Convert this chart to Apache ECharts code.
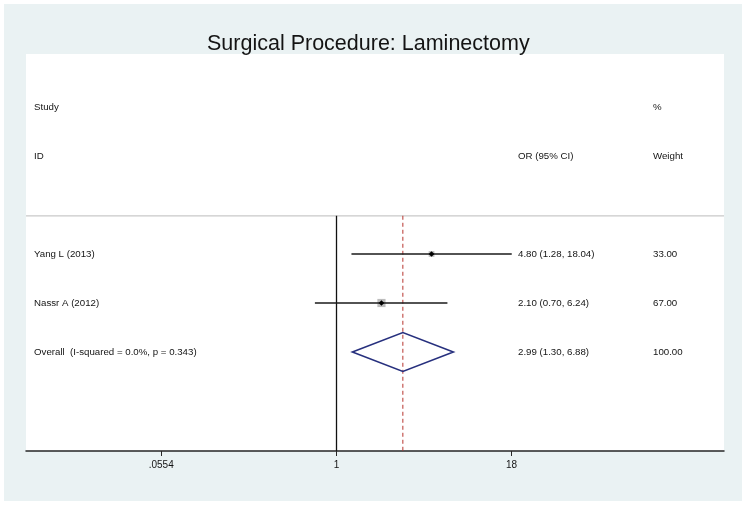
<!DOCTYPE html>
<html>
<head>
<meta charset="utf-8">
<script src="https://cdn.jsdelivr.net/npm/echarts@6/dist/echarts.min.js"></script>
<style>
  html, body { margin: 0; padding: 0; background: #ffffff; }
  #chart { width: 747px; height: 507px; }
</style>
</head>
<body>
<div id="chart"></div>
<script>
// ---- Data ----
const studies = ['Yang L (2013)', 'Nassr A (2012)'];
const orValues = [4.80, 2.10];
const ciLower = [1.28, 0.70];
const ciUpper = [18.04, 6.24];
const weights = [33.00, 67.00];
const overallLabel = 'Overall  (I-squared = 0.0%, p = 0.343)';
const overallValues = [2.99];
const overallLower = [1.30];
const overallUpper = [6.88];
const overallWeight = [100.00];
const nullValue = [1];
const tickValues = [0.0554, 1, 18];
const tickLabels = ['.0554', '1', '18'];
const titleText = 'Surgical Procedure: Laminectomy';
const headerStudy = ['Study', 'ID'];
const headerEffect = ['', 'OR (95% CI)'];
const headerWeight = ['%', 'Weight'];

// ---- Layout (rows: 0 = "Study", 1 = "ID", 3.. = studies) ----
const firstStudyRow = 3;
const separatorRow = 2.22;
const FONT = '"Liberation Sans", Arial, Helvetica, sans-serif';
const TEXT_COLOR = '#141414';

const fmt = v => v.toFixed(2);

const studyData = studies.map((s, i) => [orValues[i], ciLower[i], ciUpper[i], weights[i], firstStudyRow + i]);
const overallRow = firstStudyRow + studies.length;
const overallData = [[overallValues[0], overallLower[0], overallUpper[0], overallRow]];

const textRows = [];
headerStudy.forEach((h, i) => textRows.push([i, h, headerEffect[i], headerWeight[i]]));
studies.forEach((s, i) => textRows.push([firstStudyRow + i, s,
  fmt(orValues[i]) + ' (' + fmt(ciLower[i]) + ', ' + fmt(ciUpper[i]) + ')', fmt(weights[i])]));
textRows.push([overallRow, overallLabel,
  fmt(overallValues[0]) + ' (' + fmt(overallLower[0]) + ', ' + fmt(overallUpper[0]) + ')', fmt(overallWeight[0])]);

const chart = echarts.init(document.getElementById('chart'), null, { renderer: 'canvas' });

const option = {
  animation: false,
  backgroundColor: '#ffffff',
  graphic: [{
    type: 'rect', z: -10, silent: true,
    shape: { x: 4, y: 4, width: 738, height: 497 },
    style: { fill: '#eaf2f3' }
  }],
  title: {
    text: titleText,
    left: 202, top: 28,
    textStyle: { fontFamily: FONT, fontSize: 21.5, fontWeight: 'normal', color: TEXT_COLOR }
  },
  grid: {
    left: 26, right: 23, top: 54, bottom: 56,
    show: true, backgroundColor: '#ffffff', borderWidth: 0
  },
  xAxis: {
    type: 'log', logBase: 10,
    min: 0.005944, max: 599.6,
    splitLine: { show: false },
    axisLine: { show: true, onZero: false, lineStyle: { color: '#262626', width: 1.5 } },
    axisTick: { show: true, length: 5, customValues: tickValues, lineStyle: { color: '#262626', width: 1 } },
    minorTick: { show: false },
    axisLabel: {
      customValues: tickValues,
      margin: 9.5,
      fontFamily: FONT, fontSize: 10, color: TEXT_COLOR,
      formatter: v => {
        const idx = tickValues.findIndex(t => Math.abs(Math.log10(t) - Math.log10(v)) < 1e-6);
        return idx >= 0 ? tickLabels[idx] : '';
      }
    }
  },
  yAxis: {
    type: 'value', inverse: true,
    min: -1.0816, max: 7.0204,
    show: false
  },
  series: [
    // separator line below header
    {
      type: 'custom', silent: true, z: 1,
      data: [[1, separatorRow]],
      encode: { x: 0, y: 1 },
      renderItem: (params, api) => {
        const cs = params.coordSys;
        const y = api.coord([api.value(0), api.value(1)])[1];
        return { type: 'line', shape: { x1: cs.x, y1: y, x2: cs.x + cs.width, y2: y },
          style: { stroke: '#c9c9c9', lineWidth: 1.2 } };
      }
    },
    // null line (solid) and overall effect line (dashed)
    {
      type: 'custom', silent: true, z: 2,
      data: [[nullValue[0], separatorRow, 0], [overallValues[0], separatorRow, 1]],
      encode: { x: 0, y: 1 },
      renderItem: (params, api) => {
        const cs = params.coordSys;
        const p = api.coord([api.value(0), api.value(1)]);
        const dashed = api.value(2) === 1;
        return { type: 'line', shape: { x1: p[0], y1: p[1], x2: p[0], y2: cs.y + cs.height },
          style: dashed ? { stroke: '#b8342f', lineWidth: 1, lineDash: [4, 3] }
                        : { stroke: '#111111', lineWidth: 1.3 } };
      }
    },
    // study estimates
    {
      type: 'custom', silent: true, z: 3,
      data: studyData,
      encode: { x: [0, 1, 2], y: 4 },
      renderItem: (params, api) => {
        const row = api.value(4);
        const p = api.coord([api.value(0), row]);
        const lo = api.coord([api.value(1), row]);
        const hi = api.coord([api.value(2), row]);
        const s = Math.sqrt(api.value(3));
        const d = 2.8;
        return { type: 'group', children: [
          { type: 'rect', shape: { x: p[0] - s / 2, y: p[1] - s / 2, width: s, height: s },
            style: { fill: '#bdbdbd' } },
          { type: 'line', shape: { x1: lo[0], y1: lo[1], x2: hi[0], y2: hi[1] },
            style: { stroke: '#1a1a1a', lineWidth: 1.3 } },
          { type: 'polygon', shape: { points: [[p[0] - d, p[1]], [p[0], p[1] - d], [p[0] + d, p[1]], [p[0], p[1] + d]] },
            style: { fill: '#000000' } }
        ] };
      }
    },
    // overall diamond
    {
      type: 'custom', silent: true, z: 4,
      data: overallData,
      encode: { x: [0, 1, 2], y: 3 },
      renderItem: (params, api) => {
        const row = api.value(3);
        const c = api.coord([api.value(0), row]);
        const lo = api.coord([api.value(1), row]);
        const hi = api.coord([api.value(2), row]);
        const h = 19.5;
        return { type: 'polygon',
          shape: { points: [[lo[0], c[1]], [c[0], c[1] - h], [hi[0], c[1]], [c[0], c[1] + h]] },
          style: { fill: 'none', stroke: '#27307e', lineWidth: 1.6 } };
      }
    },
    // text columns
    {
      type: 'custom', silent: true, z: 5,
      data: textRows.map(r => [1, r[0], r[1], r[2], r[3]]),
      encode: { x: 0, y: 1 },
      renderItem: (params, api) => {
        const cs = params.coordSys;
        const y = api.coord([1, api.value(1)])[1];
        const row = textRows[params.dataIndex];
        const mk = (x, t) => ({ type: 'text', x: x, y: y,
          style: { text: t, fontFamily: FONT, fontSize: 9.7, fill: TEXT_COLOR,
                   textAlign: 'left', textVerticalAlign: 'middle', verticalAlign: 'middle' } });
        return { type: 'group', children: [
          mk(cs.x + 8, row[1]),
          mk(cs.x + 492, row[2]),
          mk(cs.x + 627, row[3])
        ] };
      }
    }
  ]
};

chart.setOption(option);
</script>
</body>
</html>
